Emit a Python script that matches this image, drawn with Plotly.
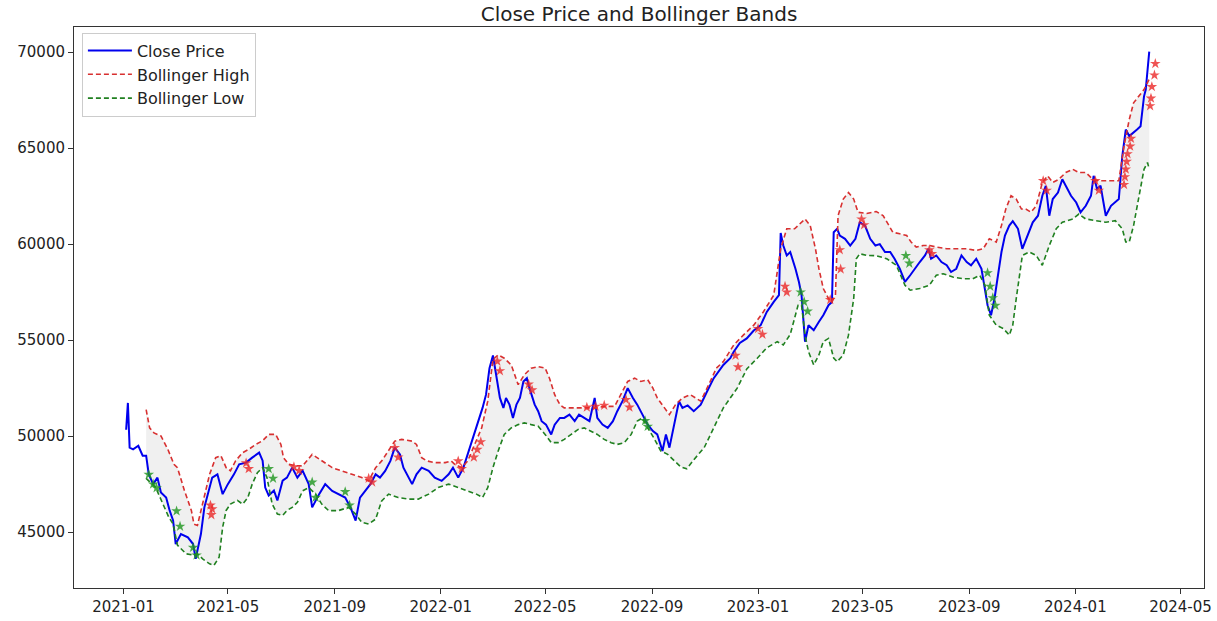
import plotly.graph_objects as go

# ---------------- data ----------------
close_dates = [
    "2021-01-04","2021-01-06","2021-01-08","2021-01-12","2021-01-18","2021-01-23","2021-01-27","2021-01-30",
    "2021-02-04","2021-02-09","2021-02-13","2021-02-19","2021-02-23","2021-02-27","2021-03-02","2021-03-08",
    "2021-03-16","2021-03-22","2021-03-25","2021-03-31","2021-04-04","2021-04-10","2021-04-13","2021-04-19",
    "2021-04-25","2021-05-01","2021-05-08","2021-05-14","2021-05-22","2021-05-29","2021-06-06","2021-06-10",
    "2021-06-13","2021-06-17","2021-06-23","2021-06-27","2021-07-03","2021-07-08","2021-07-14","2021-07-20",
    "2021-07-26","2021-08-02","2021-08-06","2021-08-14","2021-08-21","2021-08-29","2021-09-05","2021-09-13",
    "2021-09-19","2021-09-25","2021-09-30","2021-10-06","2021-10-12","2021-10-18","2021-10-23","2021-10-29",
    "2021-11-04","2021-11-09","2021-11-15","2021-11-19","2021-11-25","2021-11-29","2021-12-04","2021-12-10",
    "2021-12-18","2021-12-25","2022-01-02","2022-01-10","2022-01-15","2022-01-21","2022-01-27","2022-02-01",
    "2022-02-07","2022-02-13","2022-02-18","2022-02-22","2022-02-26","2022-03-02","2022-03-06","2022-03-10",
    "2022-03-14","2022-03-17","2022-03-21","2022-03-25","2022-03-29","2022-04-02","2022-04-06","2022-04-10",
    "2022-04-13","2022-04-19","2022-04-23","2022-04-27","2022-05-02","2022-05-08","2022-05-12","2022-05-18",
    "2022-05-23","2022-05-29","2022-06-04","2022-06-09","2022-06-15","2022-06-21","2022-06-27","2022-06-30",
    "2022-07-06","2022-07-12","2022-07-18","2022-07-23","2022-07-29","2022-08-04","2022-08-10","2022-08-15",
    "2022-08-21","2022-08-27","2022-09-02","2022-09-07","2022-09-13","2022-09-17","2022-09-21","2022-09-27",
    "2022-10-02","2022-10-06","2022-10-12","2022-10-19","2022-10-27","2022-11-03","2022-11-11","2022-11-22",
    "2022-11-30","2022-12-04","2022-12-11","2022-12-19","2022-12-27","2023-01-04","2023-01-11","2023-01-19",
    "2023-01-25","2023-01-27","2023-01-30","2023-02-03","2023-02-07","2023-02-13","2023-02-17","2023-02-20",
    "2023-02-24","2023-02-28","2023-03-06","2023-03-12","2023-03-17","2023-03-23","2023-03-27","2023-03-29",
    "2023-04-02","2023-04-05","2023-04-11","2023-04-17","2023-04-23","2023-04-28","2023-05-04","2023-05-10",
    "2023-05-16","2023-05-21","2023-05-27","2023-06-02","2023-06-07","2023-06-13","2023-06-19","2023-06-25",
    "2023-06-30","2023-07-06","2023-07-12","2023-07-16","2023-07-19","2023-07-25","2023-07-31","2023-08-06",
    "2023-08-11","2023-08-17","2023-08-23","2023-08-29","2023-09-03","2023-09-09","2023-09-15","2023-09-19",
    "2023-09-22","2023-09-26","2023-09-30","2023-10-04","2023-10-08","2023-10-12","2023-10-17","2023-10-21",
    "2023-10-27","2023-11-01","2023-11-07","2023-11-13","2023-11-19","2023-11-24","2023-11-28","2023-12-02",
    "2023-12-06","2023-12-12","2023-12-17","2023-12-21","2023-12-27","2024-01-02","2024-01-07","2024-01-13",
    "2024-01-19","2024-01-22","2024-01-26","2024-01-30","2024-02-05","2024-02-11","2024-02-16","2024-02-20",
    "2024-02-24","2024-02-28","2024-03-03","2024-03-08","2024-03-12","2024-03-16","2024-03-20","2024-03-22",
    "2024-03-26",
]
close_values = [
    50330,51730,49400,49310,49500,48980,48980,48010,
    47500,47840,47060,46800,46130,45610,44380,44900,
    44730,44380,43610,44900,46290,47320,47840,48010,
    46980,47500,48010,48530,48620,48880,49140,48720,
    47320,46910,47170,46650,47680,47840,48360,47840,
    48200,47500,46290,46980,47500,47150,46980,46800,
    46290,45600,46800,47150,47500,48010,47840,48190,
    48710,49400,49050,48360,47840,47500,48010,48360,
    48190,47840,47670,48010,48360,47840,48360,49050,
    49910,50780,51470,52160,53540,54200,53190,51990,
    51470,51990,51640,50950,51640,51990,52850,53020,
    52500,51640,51300,50780,50600,50090,50600,50950,
    50950,51120,50780,51120,50950,50780,51990,50950,
    50600,50430,50780,51300,51820,52500,51990,51640,
    51120,50600,50260,50090,49230,50090,49400,50780,
    51820,51470,51600,51300,51640,52300,53020,53710,
    54060,54400,54850,55090,55500,55780,56470,56990,
    57340,60580,59930,59410,59590,58720,58030,57340,
    54920,55780,55520,55960,56300,56820,56990,60620,
    60800,60450,60280,59930,60280,61140,60970,60280,
    59930,60000,59590,59590,59240,58720,58030,58380,
    58720,59070,59410,59760,59240,59410,59070,58900,
    58550,58720,59410,59070,58900,59240,58720,57690,
    56820,56300,57170,58380,59590,60450,60970,61200,
    60800,59760,60450,61140,61480,62520,63040,61480,
    62350,62690,63380,63040,62520,62170,61660,62000,
    62520,63560,62870,63040,61480,62000,62170,62350,
    64590,65970,65630,65800,65970,66140,67700,68050,
    70030,
]

high_dates = [
    "2021-01-27","2021-01-31","2021-02-05","2021-02-13","2021-02-21","2021-02-28","2021-03-04","2021-03-12",
    "2021-03-20","2021-03-23","2021-03-27","2021-04-02","2021-04-10","2021-04-17","2021-04-23","2021-04-29",
    "2021-05-04","2021-05-10","2021-05-18","2021-05-25","2021-06-02","2021-06-10","2021-06-17","2021-06-25",
    "2021-07-01","2021-07-04","2021-07-10","2021-07-18","2021-07-26","2021-08-06","2021-08-17","2021-08-29",
    "2021-09-09","2021-09-21","2021-10-02","2021-10-10","2021-10-18","2021-10-25","2021-11-02","2021-11-09",
    "2021-11-17","2021-11-29","2021-12-04","2021-12-10","2021-12-16","2021-12-25","2022-01-06","2022-01-13",
    "2022-01-17","2022-01-25","2022-02-01","2022-02-09","2022-02-17","2022-02-24","2022-03-02","2022-03-08",
    "2022-03-15","2022-03-23","2022-03-31","2022-04-07","2022-04-15","2022-04-23","2022-05-01","2022-05-06",
    "2022-05-12","2022-05-18","2022-05-23","2022-06-04","2022-06-15","2022-06-27","2022-07-08","2022-07-20",
    "2022-07-27","2022-08-04","2022-08-12","2022-08-19","2022-08-27","2022-09-02","2022-09-07","2022-09-15",
    "2022-09-21","2022-09-28","2022-10-06","2022-10-15","2022-10-27","2022-11-07","2022-11-14","2022-11-22",
    "2022-12-04","2022-12-15","2022-12-27","2023-01-07","2023-01-19","2023-01-27","2023-02-03","2023-02-12",
    "2023-02-18","2023-02-24","2023-03-02","2023-03-08","2023-03-12","2023-03-17","2023-03-23","2023-03-27",
    "2023-03-31","2023-04-03","2023-04-09","2023-04-15","2023-04-21","2023-04-26","2023-05-06","2023-05-17",
    "2023-05-25","2023-05-31","2023-06-05","2023-06-13","2023-06-21","2023-06-26","2023-07-02","2023-07-10",
    "2023-07-17","2023-07-25","2023-08-06","2023-08-17","2023-08-29","2023-09-09","2023-09-17","2023-09-24",
    "2023-10-02","2023-10-08","2023-10-13","2023-10-19","2023-10-25","2023-10-31","2023-11-05","2023-11-11",
    "2023-11-17","2023-11-24","2023-11-30","2023-12-06","2023-12-13","2023-12-21","2023-12-29","2024-01-05",
    "2024-01-13","2024-01-21","2024-01-28","2024-02-09","2024-02-20","2024-02-26","2024-03-03","2024-03-08",
    "2024-03-14","2024-03-20","2024-03-26",
]
high_values = [
    51380,50430,50170,50010,49310,48530,48360,47170,
    46130,45420,45350,46460,48010,48880,48980,48360,
    48200,48720,49140,49310,49570,49760,50090,50090,
    49570,48880,48530,48460,48450,49050,48710,48360,
    48190,48010,47840,47670,48360,48710,49230,49740,
    49830,49740,49570,48880,48710,48620,48620,48710,
    48530,48360,48710,49570,50430,51820,54000,54230,
    54060,53710,52680,53190,53540,53620,53540,53020,
    52160,51640,51470,51470,51470,51470,51550,51550,
    52160,52850,53020,52850,52940,52500,51990,51470,
    51120,51640,51990,52160,51820,52850,53540,53880,
    54750,55260,55780,56470,57340,59760,60800,60800,
    61050,61310,60970,59760,58720,57690,57170,56990,
    57340,61480,62350,62690,62350,61660,61600,61700,
    61480,60970,60620,60540,60450,60110,59850,59930,
    59930,59850,59760,59760,59760,59670,59760,60280,
    60110,60970,61830,62520,62350,61830,61830,61660,
    62000,63210,63560,63210,63380,63730,63900,63730,
    63730,63380,63300,63300,63300,65110,66490,67360,
    67700,68050,68600,
]

low_dates = [
    "2021-01-27","2021-02-07","2021-02-22","2021-02-27","2021-03-04","2021-03-14","2021-03-23","2021-03-27",
    "2021-04-02","2021-04-10","2021-04-15","2021-04-21","2021-04-25","2021-04-29","2021-05-04","2021-05-12",
    "2021-05-18","2021-05-24","2021-05-29","2021-06-04","2021-06-10","2021-06-15","2021-06-21","2021-06-27",
    "2021-07-03","2021-07-08","2021-07-14","2021-07-20","2021-07-26","2021-08-02","2021-08-10","2021-08-17",
    "2021-08-25","2021-09-05","2021-09-17","2021-09-25","2021-10-02","2021-10-10","2021-10-18","2021-10-25",
    "2021-11-02","2021-11-13","2021-11-25","2021-12-06","2021-12-18","2021-12-29","2022-01-10","2022-01-21",
    "2022-02-01","2022-02-11","2022-02-18","2022-02-24","2022-03-02","2022-03-08","2022-03-15","2022-03-23",
    "2022-03-31","2022-04-07","2022-04-15","2022-04-23","2022-05-01","2022-05-08","2022-05-16","2022-05-23",
    "2022-05-31","2022-06-08","2022-06-15","2022-06-23","2022-06-30","2022-07-08","2022-07-16","2022-07-23",
    "2022-07-31","2022-08-08","2022-08-15","2022-08-21","2022-08-27","2022-09-03","2022-09-11","2022-09-19",
    "2022-09-27","2022-10-04","2022-10-11","2022-10-19","2022-10-31","2022-11-11","2022-11-22","2022-12-08",
    "2022-12-19","2022-12-31","2023-01-11","2023-01-23","2023-01-30","2023-02-07","2023-02-12","2023-02-16",
    "2023-02-20","2023-02-24","2023-02-28","2023-03-06","2023-03-12","2023-03-17","2023-03-23","2023-03-29",
    "2023-04-02","2023-04-09","2023-04-15","2023-04-21","2023-04-24","2023-04-28","2023-05-06","2023-05-17",
    "2023-05-29","2023-06-09","2023-06-19","2023-06-25","2023-07-06","2023-07-17","2023-07-25","2023-08-02",
    "2023-08-13","2023-08-25","2023-09-05","2023-09-13","2023-09-19","2023-09-24","2023-10-02","2023-10-10",
    "2023-10-17","2023-10-21","2023-10-25","2023-10-29","2023-11-01","2023-11-09","2023-11-17","2023-11-24",
    "2023-12-02","2023-12-10","2023-12-17","2023-12-29","2024-01-05","2024-01-13","2024-01-24","2024-02-05",
    "2024-02-16","2024-02-24","2024-02-28","2024-03-03","2024-03-08","2024-03-14","2024-03-20","2024-03-24",
    "2024-03-26",
]
low_values = [
    47800,47320,45780,45420,44320,43870,43800,43870,
    43610,43350,43270,43700,45250,46130,46460,46650,
    46460,46800,47500,48100,48360,47840,46460,45940,
    45870,46130,46290,46550,47150,47320,46980,46460,
    46120,46120,46290,45940,45510,45420,45680,46630,
    46980,46800,46720,46720,46980,47320,47500,47320,
    47150,46980,46800,47320,48360,49230,50090,50430,
    50600,50690,50600,50520,50090,49660,49660,49830,
    50090,50350,50430,50260,50090,49830,49660,49570,
    49660,50090,50780,50950,50430,49910,49230,49050,
    48710,48400,48300,48770,49400,50430,51470,52500,
    53500,54060,54600,54920,54750,55300,56130,56820,
    56820,55260,54400,53710,54230,54920,55090,54060,
    53880,54230,55260,57170,59240,59500,59410,59400,
    59240,58900,57860,57600,57690,57860,58380,58460,
    58290,58200,58200,58380,57860,56300,55780,55610,
    55260,55780,57170,58380,59410,59590,59410,58900,
    59930,60800,61140,61310,61570,61310,61220,61140,
    61220,60800,60110,60110,60970,62520,63900,64250,
    63900,
]

sell_dates = [
    "2021-04-11","2021-04-12","2021-04-13","2021-05-22","2021-05-25","2021-07-16","2021-07-22",
    "2021-10-10","2021-10-14","2021-11-09","2021-11-13","2022-01-21","2022-01-25","2022-02-08",
    "2022-02-12","2022-02-16","2022-03-07","2022-03-10","2022-04-12","2022-04-16","2022-06-18",
    "2022-06-28","2022-07-08","2022-08-02","2022-08-06","2022-12-06","2022-12-09","2023-01-01",
    "2023-01-06","2023-02-01","2023-02-03","2023-03-25","2023-04-05","2023-04-06","2023-04-30",
    "2023-05-03","2023-07-17","2023-07-20","2023-11-25","2023-11-29","2024-01-24","2024-01-28",
    "2024-02-26","2024-02-27","2024-02-28","2024-02-29","2024-03-01","2024-03-04","2024-03-05",
    "2024-03-27","2024-03-28","2024-03-29","2024-04-01","2024-04-02",
]
sell_values = [
    46400,45900,46200,48600,48300,48400,48200,
    47800,47600,49400,48900,48700,48300,48900,
    49300,49700,53900,53400,52700,52400,51500,
    51550,51600,51900,51500,54200,53600,55600,
    55300,57800,57500,57100,59700,58700,61300,
    61000,59700,59500,63300,62800,63300,62800,
    63100,63500,63900,64300,64700,65100,65500,
    67200,67600,68200,68800,69400,
]

buy_dates = [
    "2021-01-30","2021-02-04","2021-02-08","2021-03-03","2021-03-07","2021-03-22","2021-03-26",
    "2021-06-17","2021-06-22","2021-08-06","2021-08-10","2021-09-13","2021-09-18","2022-08-24",
    "2022-08-27","2023-02-19","2023-02-23","2023-02-27","2023-06-20","2023-06-24","2023-09-22",
    "2023-09-25","2023-09-28","2023-10-01",
]
buy_values = [
    48000,47500,47300,46100,45300,44200,43800,
    48300,47800,47600,46800,47100,46400,50800,
    50500,57500,57000,56500,59400,59000,58500,
    57800,57200,56800,
]

title_text = "Close Price and Bollinger Bands"
y_ticks = [45000, 50000, 55000, 60000, 65000, 70000]

# ---------------- figure ----------------
fig = go.Figure()

# grey band between the Bollinger lines
fig.add_trace(go.Scatter(
    x=high_dates + low_dates[::-1],
    y=high_values + low_values[::-1],
    fill="toself", fillcolor="rgba(128,128,128,0.12)",
    line=dict(width=0), mode="lines", hoverinfo="skip", showlegend=False,
))

fig.add_trace(go.Scatter(
    x=close_dates, y=close_values, mode="lines", name="Close Price",
    line=dict(color="#0000ee", width=2),
))
fig.add_trace(go.Scatter(
    x=high_dates, y=high_values, mode="lines", name="Bollinger High",
    line=dict(color="#d83030", width=1.6, dash="5px,3px"),
))
fig.add_trace(go.Scatter(
    x=low_dates, y=low_values, mode="lines", name="Bollinger Low",
    line=dict(color="#208020", width=1.6, dash="5px,3px"),
))
fig.add_trace(go.Scatter(
    x=sell_dates, y=sell_values, mode="markers", showlegend=False,
    marker=dict(symbol="star", size=8, color="rgba(235,40,40,0.8)", line=dict(width=0)),
))
fig.add_trace(go.Scatter(
    x=buy_dates, y=buy_values, mode="markers", showlegend=False,
    marker=dict(symbol="star", size=8, color="rgba(30,150,30,0.8)", line=dict(width=0)),
))

axis_font = dict(family="DejaVu Sans", size=15, color="#222222")

fig.update_layout(
    width=1217, height=621,
    paper_bgcolor="white", plot_bgcolor="white",
    margin=dict(l=74, r=5, t=27, b=30),
    title=dict(text=title_text, xref="paper", x=0.5, xanchor="center", y=0.978, yanchor="middle",
               font=dict(family="DejaVu Sans", size=20, color="#222222")),
    legend=dict(x=0.007, y=0.99, xanchor="left", yanchor="top",
                bgcolor="rgba(255,255,255,0.9)", bordercolor="#cccccc", borderwidth=1,
                font=dict(family="DejaVu Sans", size=16, color="#222222"),
                itemwidth=44, tracegroupgap=0),
    showlegend=True,
)
fig.update_xaxes(
    type="date", range=["2020-11-05", "2024-05-28"],
    tick0="2021-01-01", dtick="M4", tickformat="%Y-%m",
    showgrid=False, zeroline=False,
    showline=True, linecolor="#333333", linewidth=1, mirror=True,
    ticks="outside", ticklen=5, tickcolor="#333333",
    tickfont=axis_font, ticklabeloverflow="allow",
)
fig.update_yaxes(
    range=[42090, 71311], tickvals=y_ticks, tickformat="d",
    showgrid=False, zeroline=False,
    showline=True, linecolor="#333333", linewidth=1, mirror=True,
    ticks="outside", ticklen=5, tickcolor="#333333",
    tickfont=axis_font,
)

fig.write_html("out.html", config={"displayModeBar": False},
               post_script="document.body.style.margin='0';")
